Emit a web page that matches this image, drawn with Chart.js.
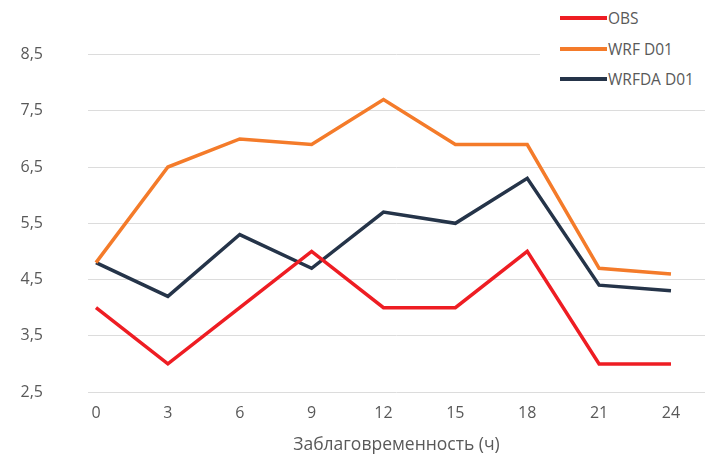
<!DOCTYPE html>
<html><head><meta charset="utf-8">
<script src="https://cdn.jsdelivr.net/npm/chart.js@4/dist/chart.umd.min.js"></script>
<style>
html,body{margin:0;padding:0;background:#fff;}
#wrap{position:relative;width:705px;height:461px;}
#legend{position:absolute;left:540px;top:4px;width:165px;height:92px;background:#fff;font-family:"Open Sans",sans-serif;font-size:15.5px;color:#595959;}
.li{position:absolute;left:20px;height:20px;display:flex;align-items:center;}
.li span.ln{display:inline-block;width:47px;height:4px;margin-right:1px;}
</style></head>
<body><div id="wrap"><canvas id="c" width="705" height="461"></canvas>
<div id="legend"></div></div>
<script>
const hours = [0, 3, 6, 9, 12, 15, 18, 21, 24];
const obs = [4.0, 3.0, 4.0, 5.0, 4.0, 4.0, 5.0, 3.0, 3.0];
const wrf = [4.8, 6.5, 7.0, 6.9, 7.7, 6.9, 6.9, 4.7, 4.6];
const wrfda = [4.8, 4.2, 5.3, 4.7, 5.7, 5.5, 6.3, 4.4, 4.3];
const seriesNames = ["OBS", "WRF D01", "WRFDA D01"];
const seriesColors = ["#ee1d23", "#f47b2a", "#253449"];
const yTicks = [2.5, 3.5, 4.5, 5.5, 6.5, 7.5, 8.5];
const xTitle = "Заблаговременность (ч)";

const toPts = arr => hours.map((h, i) => ({x: h, y: arr[i]}));
const all = [obs, wrf, wrfda];
const font = {family: "'Open Sans', sans-serif", size: 16};

new Chart(document.getElementById('c'), {
  type: 'line',
  data: {
    datasets: all.map((a, i) => ({
      label: seriesNames[i], data: toPts(a), borderColor: seriesColors[i],
      backgroundColor: seriesColors[i], borderWidth: 3.5, pointRadius: 0, tension: 0, fill: false
    }))
  },
  options: {
    responsive: false, animation: false,
    layout: {padding: {top: 46, right: 0, bottom: 0, left: 0}},
    plugins: {legend: {display: false}, tooltip: {enabled: false}},
    scales: {
      x: {
        type: 'linear', min: -0.334, max: 25.42,
        afterBuildTicks: s => { s.ticks = hours.map(v => ({value: v})); },
        afterFit: s => { s.height = 69; },
        grid: {display: false, drawTicks: false},
        border: {display: false},
        ticks: {padding: 12, color: '#595959', font: font, autoSkip: false, maxRotation: 0},
        title: {display: true, text: xTitle, color: '#595959', font: {family: "'Open Sans', sans-serif", size: 17.5}, padding: {top: 0, bottom: 5}}
      },
      y: {
        min: 2.5, max: 8.5,
        afterBuildTicks: s => { s.ticks = yTicks.map(v => ({value: v})); },
        afterFit: s => { s.width = 88; },
        grid: {color: '#dcdcdc', lineWidth: 1, drawTicks: false},
        border: {display: false},
        ticks: {padding: 45, color: '#595959', font: font,
          callback: v => v.toFixed(1).replace('.', ',')}
      }
    }
  }
});

const lg = document.getElementById('legend');
seriesNames.forEach((n, i) => {
  const d = document.createElement('div');
  d.className = 'li';
  d.style.top = (4 + i * 30.5) + 'px';
  d.innerHTML = '<span class="ln" style="background:' + seriesColors[i] + '"></span>' + n;
  lg.appendChild(d);
});
</script></body></html>
